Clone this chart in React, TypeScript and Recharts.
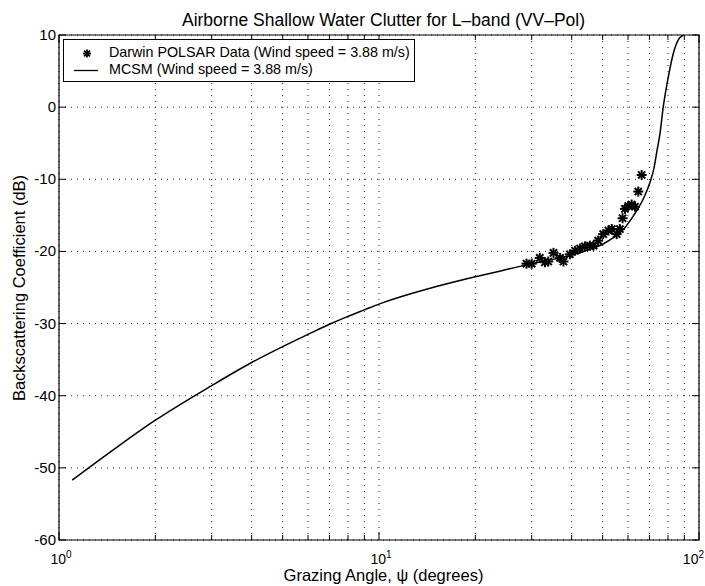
import {
  ComposedChart,
  Line,
  Scatter,
  XAxis,
  YAxis,
  CartesianGrid,
  ReferenceArea,
} from 'recharts'

// MCSM model curve (grazing angle in degrees, backscatter in dB)
const curveAngle = [
  1.1, 1.5, 2, 3, 4, 5, 6, 7, 8, 9, 10, 15, 20, 24, 28, 35, 40, 45, 50, 54, 57.3,
  62.3, 67, 70.3, 72.3, 73.8, 75.5, 77.3, 80.2, 83.2, 86.3, 89.5,
]
const curveDb = [
  -51.7, -47.3, -43.4, -38.6, -35.4, -33.2, -31.5, -30.1, -29.0, -28.1, -27.3,
  -24.9, -23.5, -22.7, -22.0, -21.1, -20.5, -19.8, -19.0, -18.1, -17.2, -15.1,
  -12.7, -10.4, -8.5, -6.2, -3.7, 0, 4.2, 7.5, 9.4, 10,
]

// Darwin POLSAR measurements
const dataAngle = [
  28.9, 30.0, 31.8, 33.0, 33.8, 35.1, 36.8, 37.7, 39.5, 41.0, 42.5, 44.0, 45.6,
  46.8, 48.4, 50.2, 52.1, 53.4, 55.3, 56.6, 57.7, 58.7, 60.1, 61.6, 63.1, 64.6,
  66.2,
]
const dataDb = [
  -21.7, -21.7, -20.9, -21.5, -21.4, -20.2, -20.9, -21.4, -20.4, -19.9, -19.6,
  -19.3, -19.2, -19.2, -18.5, -17.6, -17.1, -16.9, -17.6, -16.9, -15.4, -14.1,
  -13.7, -13.5, -13.8, -11.7, -9.4,
]

const xMinorTicks = [1, 2, 3, 4, 5, 6, 7, 8, 9, 10, 20, 30, 40, 50, 60, 70, 80, 90, 100]
const xDecades = [1, 10, 100]
const xExponents = ['0', '1', '2']
const yTicks = [-60, -50, -40, -30, -20, -10, 0, 10]

const curve = curveAngle.map((x, i) => ({ x, y: curveDb[i] }))
const points = dataAngle.map((x, i) => ({ x, y: dataDb[i] }))

const FONT = '"Liberation Sans", Arial, Helvetica, sans-serif'
const PLOT = { left: 59, right: 699, top: 35, bottom: 540 }

function XTick(props: any) {
  const { x, payload } = props
  const idx = xDecades.indexOf(payload.value)
  const len = idx >= 0 ? 8 : 5
  // last label would run off the page edge, so pin it to the right
  const last = idx === xDecades.length - 1
  return (
    <g>
      <line x1={x} x2={x} y1={PLOT.bottom} y2={PLOT.bottom - len} stroke="#000" />
      <line x1={x} x2={x} y1={PLOT.top} y2={PLOT.top + len} stroke="#000" />
      {idx >= 0 && (
        <text
          x={last ? 704 : x + 2}
          y={564}
          textAnchor={last ? 'end' : 'middle'}
          fontSize={14}
          fill="#000"
          fontFamily={FONT}
        >
          10
          <tspan dy={-6} fontSize={10}>
            {xExponents[idx]}
          </tspan>
        </text>
      )}
    </g>
  )
}

function YTick(props: any) {
  const { y, payload } = props
  return (
    <g>
      <line x1={PLOT.left} x2={PLOT.left + 7} y1={y} y2={y} stroke="#000" />
      <line x1={PLOT.right} x2={PLOT.right - 7} y1={y} y2={y} stroke="#000" />
      <text x={56} y={y + 5} textAnchor="end" fontSize={15} fill="#000" fontFamily={FONT}>
        {payload.value}
      </text>
    </g>
  )
}

function Star({ cx, cy, r = 5, w = 2 }: any) {
  const d = r * 0.72
  return (
    <g stroke="#000" strokeWidth={w}>
      <line x1={cx - r} x2={cx + r} y1={cy} y2={cy} />
      <line x1={cx} x2={cx} y1={cy - r} y2={cy + r} />
      <line x1={cx - d} x2={cx + d} y1={cy - d} y2={cy + d} />
      <line x1={cx - d} x2={cx + d} y1={cy + d} y2={cy - d} />
    </g>
  )
}

export default function App() {
  return (
    <div style={{ position: 'absolute', left: 0, top: 0, width: 705, height: 586, background: '#fff', fontFamily: FONT, color: '#000' }}>
      <ComposedChart
        width={705}
        height={586}
        margin={{ top: PLOT.top, right: 705 - PLOT.right, bottom: 0, left: 0 }}
      >
        <CartesianGrid stroke="#222" strokeDasharray="1 5" />
        <XAxis
          dataKey="x"
          type="number"
          scale="log"
          domain={[1, 100]}
          ticks={xMinorTicks}
          interval={0}
          allowDataOverflow
          axisLine={false}
          tickLine={false}
          tick={<XTick />}
          height={586 - PLOT.bottom}
        />
        <YAxis
          dataKey="y"
          type="number"
          domain={[-60, 10]}
          ticks={yTicks}
          interval={0}
          allowDataOverflow
          axisLine={false}
          tickLine={false}
          tick={<YTick />}
          width={PLOT.left}
        />
        <ReferenceArea x1={1} x2={100} y1={-60} y2={10} fill="none" stroke="#000" strokeWidth={1.2} />
        <Line
          data={curve}
          dataKey="y"
          type="monotone"
          stroke="#000"
          strokeWidth={1.5}
          dot={false}
          isAnimationActive={false}
        />
        <Scatter data={points} dataKey="y" shape={<Star />} isAnimationActive={false} />
      </ComposedChart>

      <div
        style={{
          position: 'absolute',
          left: 63,
          top: 39,
          width: 352,
          height: 43,
          border: '1px solid #000',
          background: '#fff',
          boxSizing: 'border-box',
          fontSize: 14.3,
        }}
      >
        <svg width={44} height={42} style={{ position: 'absolute', left: 0, top: 0 }}>
          <Star cx={23} cy={13.5} r={4} w={1.8} />
          <line x1={10} x2={34} y1={30.5} y2={30.5} stroke="#000" strokeWidth={1.3} />
        </svg>
        <div style={{ position: 'absolute', left: 45, top: 4, whiteSpace: 'nowrap', lineHeight: '17px' }}>
          Darwin POLSAR Data (Wind speed = 3.88 m/s)
        </div>
        <div style={{ position: 'absolute', left: 45, top: 21, whiteSpace: 'nowrap', lineHeight: '17px' }}>
          MCSM (Wind speed = 3.88 m/s)
        </div>
      </div>

      <div style={{ position: 'absolute', left: PLOT.left, width: 649, top: 10, textAlign: 'center', fontSize: 17.5, lineHeight: '20px' }}>
        Airborne Shallow Water Clutter for L–band (VV–Pol)
      </div>
      <div style={{ position: 'absolute', left: PLOT.left, width: 649, top: 566, textAlign: 'center', fontSize: 16.5, lineHeight: '19px' }}>
        Grazing Angle, ψ (degrees)
      </div>
      <div
        style={{
          position: 'absolute',
          left: 19,
          top: (PLOT.top + PLOT.bottom) / 2,
          transform: 'translate(-50%, -50%) rotate(-90deg)',
          whiteSpace: 'nowrap',
          fontSize: 16.5,
          lineHeight: '19px',
        }}
      >
        Backscattering Coefficient (dB)
      </div>
    </div>
  )
}
